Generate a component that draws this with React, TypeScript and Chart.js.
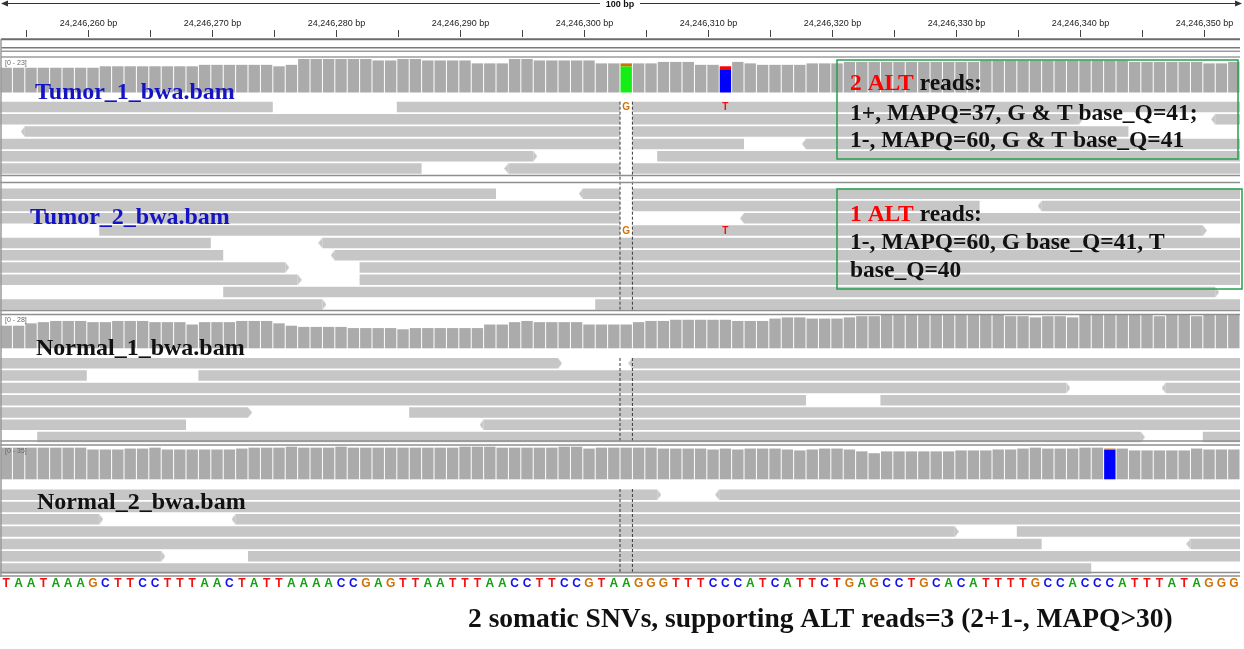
import { useEffect, useRef } from "react";
import { Chart, registerables } from "chart.js";

Chart.register(...registerables);

// 100 bp window; all offsets below are bases from VIEW_START
const VIEW_START = 24246253;
const VIEW_END = 24246353.32;
// IGV draws its ruler ticks a little right of the base boundaries
const RULER_SHIFT = 0.13;
const CENTER_OFFSET = 50;

const REFERENCE =
  "TAATAAAGCTTCCTTTAACTATTAAAACCGAGTTAATTTAACCTTCCGTAAGGGTTTCCCATCATTCTGAGCCTGCACATTTTGCCACCCATTTATAGGG";

const tumor1Depth = [
  17, 17, 17, 17, 17, 17, 17, 17, 18, 18, 18, 18, 18, 18, 18, 18, 19, 19, 19, 19,
  19, 19, 18, 19, 23, 23, 23, 23, 23, 23, 22, 22, 23, 23, 22, 22, 22, 22, 20, 20,
  20, 23, 23, 22, 22, 22, 22, 22, 20, 20, 20, 20, 20, 21, 21, 21, 19, 19, 18, 21,
  20, 19, 19, 19, 19, 20, 20, 20, 21, 21, 21, 21, 21, 21, 21, 21, 21, 21, 21, 22,
  22, 22, 22, 22, 22, 22, 22, 22, 22, 22, 22, 21, 21, 21, 21, 21, 21, 20, 20, 21,
];
const normal1Depth = [
  19, 19, 21, 22, 23, 23, 23, 22, 22, 23, 23, 23, 22, 22, 22, 20, 22, 22, 22, 23,
  23, 23, 21, 19, 18, 18, 18, 18, 17, 17, 17, 17, 16, 17, 17, 17, 17, 17, 17, 20,
  20, 22, 23, 22, 22, 22, 22, 20, 20, 20, 20, 22, 23, 23, 24, 24, 24, 24, 24, 23,
  23, 23, 25, 26, 26, 25, 25, 25, 26, 27, 27, 28, 28, 28, 28, 28, 28, 28, 28, 28,
  28, 27, 27, 26, 27, 27, 26, 28, 28, 28, 28, 28, 28, 27, 28, 28, 27, 28, 28, 28,
];
const normal2Depth = [
  34, 34, 34, 34, 34, 34, 34, 32, 32, 32, 33, 33, 34, 32, 32, 32, 32, 32, 32, 33,
  34, 34, 34, 35, 34, 34, 34, 35, 34, 34, 34, 34, 34, 34, 34, 34, 34, 35, 35, 35,
  34, 34, 34, 34, 34, 35, 35, 33, 34, 34, 34, 34, 34, 33, 33, 33, 33, 32, 33, 32,
  33, 33, 33, 32, 31, 32, 33, 33, 32, 30, 28, 30, 30, 30, 30, 30, 30, 31, 31, 31,
  32, 32, 33, 34, 33, 33, 33, 34, 34, 33, 33, 31, 31, 31, 31, 31, 33, 32, 32, 32,
];

// coverage columns coloured by allele: offset, [base, count] from the bottom up
const tumor1Alleles = [
  { offset: 50, counts: [["A", 18], ["G", 2]] },
  { offset: 58, counts: [["C", 16], ["T", 2]] },
];
const normal2Alleles = [{ offset: 89, counts: [["C", 32], ["G", 1]] }];

// reads: [row, start, end, strand]
const tumor1Reads = [
  [0, 0, 22, -1], [0, 32, 100, 1],
  [1, 0, 87, 1], [1, 98, 100, -1],
  [2, 2, 91, -1],
  [3, 0, 60, -1], [3, 65, 100, -1],
  [4, 0, 43, 1], [4, 53, 100, 1],
  [5, 0, 34, -1], [5, 41, 100, -1],
];
const tumor2Reads = [
  [0, 0, 40, -1], [0, 47, 100, -1],
  [1, 0, 79, -1], [1, 84, 100, -1],
  [2, 0, 50, -1], [2, 60, 100, -1],
  [3, 8, 97, 1],
  [4, 0, 17, -1], [4, 26, 100, -1],
  [5, 0, 18, -1], [5, 27, 100, -1],
  [6, 0, 23, 1], [6, 29, 100, 1],
  [7, 0, 24, 1], [7, 29, 100, 1],
  [8, 18, 98, 1],
  [9, 0, 26, 1], [9, 48, 100, 1],
];
const normal1Reads = [
  [0, 0, 45, 1], [0, 51, 100, -1],
  [1, 0, 7, -1], [1, 16, 100, 1],
  [2, 0, 86, 1], [2, 94, 100, -1],
  [3, 0, 65, -1], [3, 71, 100, 1],
  [4, 0, 20, 1], [4, 33, 100, 1],
  [5, 0, 15, -1], [5, 39, 100, -1],
  [6, 3, 92, 1], [6, 97, 100, 1],
];
const normal2Reads = [
  [0, 0, 53, 1], [0, 58, 100, -1],
  [1, 0, 100, 1],
  [2, 0, 8, 1], [2, 19, 100, -1],
  [3, 0, 77, 1], [3, 82, 100, 1],
  [4, 0, 84, -1], [4, 96, 100, -1],
  [5, 0, 13, 1], [5, 20, 100, 1],
  [6, 0, 88, -1],
];

// mismatched bases on reads: [row, offset, base]
const tumor1Mismatches = [[0, 50, "G"], [0, 58, "T"]];
const tumor2Mismatches = [[3, 50, "G"], [3, 58, "T"]];
// rows where the centre base column shows blank
const tumor1Blank = [0, 1, 2, 3, 5];
const tumor2Blank = [0, 1, 3];

const SANS = '"Liberation Sans", Arial, sans-serif';
const SERIF = '"Liberation Serif", "Times New Roman", serif';
const RULER_HEIGHT = 37;
const PAGE_HEIGHT = 649;
const ROW_PITCH = 12.3;
const READ_HEIGHT = 10.5;
const COVERAGE_BAR = 11.4;
const TIP = 4;
const READ_COLOR = "#c6c6c6";
const COVERAGE_COLOR = "#ababab";
const COVERAGE_BASE_COLORS: Record<string, string> = {
  A: "#14ee14", C: "#0000ff", G: "#d17105", T: "#ff0000",
};
const SEQ_COLORS: Record<string, string> = {
  A: "#12a012", C: "#1010f0", G: "#d17105", T: "#f01010",
};

const TRACKS = [
  {
    name: "Tumor_1_bwa.bam", nameColor: "#1414c4", nameX: 35, nameBaseline: 98.5,
    coverage: { top: 59, bottom: 92.5, max: 23, labelY: 63 },
    depth: tumor1Depth, alleles: tumor1Alleles,
    firstRowY: 107, reads: tumor1Reads, blank: tumor1Blank, mismatches: tumor1Mismatches,
  },
  {
    name: "Tumor_2_bwa.bam", nameColor: "#1414c4", nameX: 30, nameBaseline: 224,
    coverage: null, depth: [], alleles: [],
    firstRowY: 193.7, reads: tumor2Reads, blank: tumor2Blank, mismatches: tumor2Mismatches,
  },
  {
    name: "Normal_1_bwa.bam", nameColor: "#111111", nameX: 36, nameBaseline: 355,
    coverage: { top: 315, bottom: 348.3, max: 28, labelY: 320 },
    depth: normal1Depth, alleles: [],
    firstRowY: 363.3, reads: normal1Reads, blank: [], mismatches: [],
  },
  {
    name: "Normal_2_bwa.bam", nameColor: "#111111", nameX: 37, nameBaseline: 509,
    coverage: { top: 446.7, bottom: 479.3, max: 35, labelY: 451.5 },
    depth: normal2Depth, alleles: normal2Alleles,
    firstRowY: 494.7, reads: normal2Reads, blank: [], mismatches: [],
  },
];

// dashed centre guides, per alignment panel
const CENTER_GUIDES = [[101.7, 310], [358, 441.5], [489, 572]];
const HEADER_RULES = [
  { y: 39.2, w: 2, c: "#6b6b6b" },
  { y: 47.8, w: 1.5, c: "#7a7a7a" },
  { y: 51.3, w: 1.5, c: "#9c9c9c" },
  { y: 57, w: 1.5, c: "#9c9c9c" },
];
const SEPARATORS = [175.5, 182.5, 310.5, 314.5, 441, 445, 572.5, 576];
const SEQ_Y = 584;

const NOTES = [
  {
    box: [837, 60, 1238, 159],
    lines: [
      { y: 89.5, parts: [["2 ALT", "#ff0000"], [" reads:", "#111"]] },
      { y: 119.5, parts: [["1+, MAPQ=37, G & T base_Q=41;", "#111"]] },
      { y: 147, parts: [["1-, MAPQ=60, G & T base_Q=41", "#111"]] },
    ],
  },
  {
    box: [837, 189, 1242, 289],
    lines: [
      { y: 221, parts: [["1 ALT", "#ff0000"], [" reads:", "#111"]] },
      { y: 249, parts: [["1-, MAPQ=60, G base_Q=41, T", "#111"]] },
      { y: 277, parts: [["base_Q=40", "#111"]] },
    ],
  },
];
const CAPTION = "2 somatic SNVs, supporting ALT reads=3 (2+1-, MAPQ>30)";

function makeTip(dir: number) {
  const c = document.createElement("canvas");
  c.width = TIP * 2;
  c.height = 11;
  const g = c.getContext("2d")!;
  g.fillStyle = READ_COLOR;
  g.beginPath();
  g.moveTo(TIP, 0.25);
  g.lineTo(dir > 0 ? TIP * 2 : 0, 5.5);
  g.lineTo(TIP, 10.75);
  g.closePath();
  g.fill();
  return c;
}

const BAR_COMMON = {
  type: "bar",
  grouped: false,
  borderWidth: 0,
  inflateAmount: 0,
  categoryPercentage: 1,
};

function buildDatasets() {
  const ds: any[] = [];
  const rightTips: any[] = [];
  const leftTips: any[] = [];
  for (const t of TRACKS) {
    const rowY = (row: number) => t.firstRowY + row * ROW_PITCH;
    if (t.coverage) {
      const c = t.coverage;
      const k = (c.bottom - c.top) / c.max;
      const split = new Set(t.alleles.map((a) => a.offset));
      ds.push({
        ...BAR_COMMON,
        label: `${t.name} coverage`,
        xAxisID: "xc",
        yAxisID: "y",
        data: t.depth
          .map((d, i) => ({ x: VIEW_START + i + 0.5, y: [c.bottom, c.bottom - d * k] }))
          .filter((_, i) => !split.has(i)),
        backgroundColor: COVERAGE_COLOR,
        barThickness: COVERAGE_BAR,
        barPercentage: 0.92,
        order: 6,
      });
      if (t.alleles.length) {
        const pieces: any[] = [];
        const colors: string[] = [];
        for (const a of t.alleles) {
          let acc = 0;
          for (const [base, n] of a.counts as [string, number][]) {
            pieces.push({
              x: VIEW_START + a.offset + 0.5,
              y: [c.bottom - acc * k, c.bottom - (acc + n) * k],
            });
            colors.push(COVERAGE_BASE_COLORS[base]);
            acc += n;
          }
        }
        ds.push({
          ...BAR_COMMON,
          label: `${t.name} alleles`,
          xAxisID: "xc",
          yAxisID: "y",
          data: pieces,
          backgroundColor: colors,
          barThickness: COVERAGE_BAR,
          barPercentage: 0.92,
          order: 6,
        });
      }
    }
    ds.push({
      ...BAR_COMMON,
      label: `${t.name} reads`,
      indexAxis: "y",
      xAxisID: "xg",
      yAxisID: "yr",
      data: t.reads.map(([row, s, e]) => ({
        y: rowY(row),
        x: [VIEW_START + s, VIEW_START + e],
      })),
      backgroundColor: READ_COLOR,
      barThickness: READ_HEIGHT,
      barPercentage: 0.854,
      order: 5,
    });
    if (t.blank.length) {
      ds.push({
        ...BAR_COMMON,
        label: `${t.name} centre`,
        indexAxis: "y",
        xAxisID: "xg",
        yAxisID: "yr",
        data: t.blank.map((row) => ({
          y: rowY(row),
          x: [VIEW_START + CENTER_OFFSET, VIEW_START + CENTER_OFFSET + 1],
        })),
        backgroundColor: "#ffffff",
        barThickness: READ_HEIGHT + 1,
        barPercentage: 0.9,
        order: 4,
      });
    }
    for (const [row, s, e, strand] of t.reads) {
      if (strand > 0 && e < 100) rightTips.push({ x: VIEW_START + e, y: rowY(row) });
      if (strand < 0 && s > 0) leftTips.push({ x: VIEW_START + s, y: rowY(row) });
    }
  }
  const tipBase = {
    type: "line",
    showLine: false,
    xAxisID: "xg",
    yAxisID: "y",
    pointRadius: 4,
    pointHoverRadius: 4,
    order: 3,
  };
  ds.push({ ...tipBase, label: "forward", data: rightTips, pointStyle: makeTip(1) });
  ds.push({ ...tipBase, label: "reverse", data: leftTips, pointStyle: makeTip(-1) });
  for (const [top, bottom] of CENTER_GUIDES) {
    for (const off of [CENTER_OFFSET, CENTER_OFFSET + 1]) {
      ds.push({
        type: "line",
        label: "centre",
        xAxisID: "xg",
        yAxisID: "y",
        data: [
          { x: VIEW_START + off, y: top },
          { x: VIEW_START + off, y: bottom },
        ],
        borderColor: "#3a3a3a",
        borderWidth: 1,
        borderDash: [3, 2],
        pointRadius: 0,
        order: 2,
      });
    }
  }
  return ds;
}

const igvOverlay = {
  id: "igvOverlay",
  afterDatasetsDraw(chart: any) {
    const { ctx } = chart;
    const xs = chart.scales.xg;
    const ys = chart.scales.y;
    const px = (off: number) => xs.getPixelForValue(VIEW_START + off);
    const py = (v: number) => ys.getPixelForValue(v);
    const right = px(100);
    ctx.save();

    // header: "100 bp" span
    ctx.strokeStyle = "#333";
    ctx.fillStyle = "#333";
    ctx.lineWidth = 1;
    ctx.beginPath();
    ctx.moveTo(4, 3.5);
    ctx.lineTo(600, 3.5);
    ctx.moveTo(640, 3.5);
    ctx.lineTo(right, 3.5);
    ctx.stroke();
    ctx.beginPath();
    ctx.moveTo(1, 3.5);
    ctx.lineTo(8, 0.5);
    ctx.lineTo(8, 6.5);
    ctx.closePath();
    ctx.moveTo(right + 2, 3.5);
    ctx.lineTo(right - 5, 0.5);
    ctx.lineTo(right - 5, 6.5);
    ctx.closePath();
    ctx.fill();
    ctx.font = `bold 9px ${SANS}`;
    ctx.textAlign = "center";
    ctx.textBaseline = "middle";
    ctx.fillStyle = "#111";
    ctx.fillText("100 bp", 620, 4.5);

    for (const r of HEADER_RULES) {
      ctx.strokeStyle = r.c;
      ctx.lineWidth = r.w;
      ctx.beginPath();
      ctx.moveTo(1, r.y);
      ctx.lineTo(right, r.y);
      ctx.stroke();
    }
    ctx.strokeStyle = "#8f8f8f";
    ctx.lineWidth = 1.5;
    for (const y of SEPARATORS) {
      ctx.beginPath();
      ctx.moveTo(0, py(y));
      ctx.lineTo(right, py(y));
      ctx.stroke();
    }
    ctx.strokeStyle = "#9a9a9a";
    ctx.beginPath();
    ctx.moveTo(1, 39);
    ctx.lineTo(1, py(577));
    ctx.stroke();

    // mismatched bases on reads
    ctx.font = `bold 10px ${SANS}`;
    ctx.textAlign = "center";
    ctx.textBaseline = "middle";
    for (const t of TRACKS) {
      for (const [row, off, base] of t.mismatches as [number, number, string][]) {
        ctx.fillStyle = SEQ_COLORS[base];
        ctx.fillText(base, px(off + 0.5), py(t.firstRowY + row * ROW_PITCH) + 0.5);
      }
    }

    // coverage range labels
    ctx.font = `7px ${SANS}`;
    ctx.textAlign = "left";
    ctx.fillStyle = "#666";
    for (const t of TRACKS) {
      if (t.coverage) ctx.fillText(`[0 - ${t.coverage.max}]`, 5, py(t.coverage.labelY));
    }

    // reference sequence
    ctx.font = `bold 12px ${SANS}`;
    ctx.textAlign = "center";
    for (let i = 0; i < REFERENCE.length; i++) {
      const b = REFERENCE[i];
      ctx.fillStyle = SEQ_COLORS[b];
      ctx.fillText(b, px(i + 0.5), py(SEQ_Y));
    }

    // track names
    ctx.textAlign = "left";
    ctx.textBaseline = "alphabetic";
    ctx.font = `bold 24px ${SERIF}`;
    for (const t of TRACKS) {
      ctx.fillStyle = t.nameColor;
      ctx.fillText(t.name, t.nameX, py(t.nameBaseline));
    }

    // annotation boxes
    for (const n of NOTES) {
      const [x0, y0, x1, y1] = n.box;
      ctx.strokeStyle = "#23a04f";
      ctx.lineWidth = 1.5;
      ctx.strokeRect(x0, py(y0), x1 - x0, py(y1) - py(y0));
      ctx.font = `bold 23.5px ${SERIF}`;
      for (const line of n.lines) {
        let x = 850;
        for (const [text, color] of line.parts) {
          ctx.fillStyle = color;
          ctx.fillText(text, x, py(line.y));
          x += ctx.measureText(text).width;
        }
      }
    }

    ctx.font = `bold 27.5px ${SERIF}`;
    ctx.fillStyle = "#111";
    ctx.fillText(CAPTION, 468, py(627));
    ctx.restore();
  },
};

const hiddenY = {
  type: "linear",
  axis: "y",
  position: "left",
  display: false,
  min: RULER_HEIGHT,
  max: PAGE_HEIGHT,
  reverse: true,
  offset: false,
  beginAtZero: false,
  grid: { offset: false },
  ticks: { stepSize: 1000 },
};

const hiddenX = {
  type: "linear",
  axis: "x",
  position: "bottom",
  display: false,
  min: VIEW_START,
  max: VIEW_END,
  offset: false,
  beginAtZero: false,
  grid: { offset: false },
};

export default function App() {
  const canvasRef = useRef<HTMLCanvasElement>(null);

  useEffect(() => {
    document.body.style.margin = "0";
    const canvas = canvasRef.current;
    if (!canvas) return;

    const chart = new Chart(canvas, {
      type: "bar",
      data: { datasets: buildDatasets() },
      options: {
        responsive: false,
        maintainAspectRatio: false,
        animation: false,
        events: [],
        layout: { padding: 0, autoPadding: false },
        plugins: {
          legend: { display: false },
          tooltip: { enabled: false },
        },
        scales: {
          x: {
            type: "linear",
            axis: "x",
            position: "top",
            min: VIEW_START - RULER_SHIFT,
            max: VIEW_END - RULER_SHIFT,
            offset: false,
            beginAtZero: false,
            afterFit: (s: any) => {
              s.height = RULER_HEIGHT;
              s.paddingLeft = 0;
              s.paddingRight = 0;
            },
            border: { display: false },
            grid: {
              display: true,
              drawOnChartArea: false,
              drawTicks: true,
              tickLength: 7,
              color: "#444",
              offset: false,
            },
            ticks: {
              stepSize: 5,
              maxTicksLimit: 100,
              includeBounds: false,
              autoSkip: false,
              maxRotation: 0,
              minRotation: 0,
              padding: 1,
              color: "#222",
              font: { family: SANS, size: 9 },
              callback: (v: any) =>
                Number(v) % 10 === 0 ? `${Number(v).toLocaleString("en-US")} bp` : "",
            },
          },
          xg: { ...hiddenX },
          xc: { ...hiddenX },
          y: hiddenY,
          yr: { ...hiddenY },
        },
      } as any,
      plugins: [igvOverlay],
    } as any);

    return () => chart.destroy();
  }, []);

  return (
    <div style={{ width: 1244, height: 649, background: "#fff" }}>
      <canvas ref={canvasRef} width={1244} height={649} style={{ display: "block" }} />
    </div>
  );
}
